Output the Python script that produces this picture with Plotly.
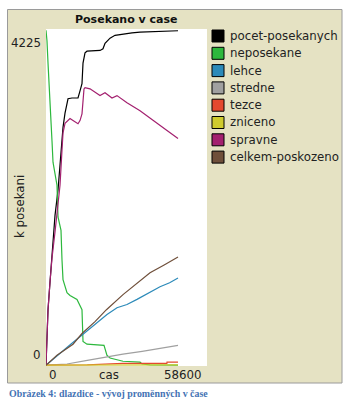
import plotly.graph_objects as go

# ---------------- data ----------------
series_names = ["pocet-posekanych", "neposekane", "lehce", "stredne",
                "tezce", "zniceno", "spravne", "celkem-poskozeno"]
series_colors = ["#000000", "#2db83d", "#2c8ab9", "#a0a0a0",
                 "#e4492f", "#cfcb2e", "#a3206f", "#6f4f3a"]

pocet_t = [0, 360, 730, 1460, 2180, 3280, 4370, 5100, 5820, 6190, 6920, 8010,
           9460, 11650, 12380, 13100, 13470, 14200, 14920, 19660, 20750, 21480,
           23300, 25120, 31300, 34220, 48050]
pocet_v = [0, 330, 700, 1050, 1390, 1890, 2210, 2500, 2830, 3000, 3180, 3360,
           3370, 3370, 3460, 3550, 3810, 3940, 3960, 3970, 3990, 4060,
           4125, 4160, 4190, 4200, 4218]

neposekane_t = [0, 360, 730, 1460, 1820, 2180, 2550, 3280, 4000, 4370, 5460,
                5820, 6190, 7640, 8740, 11280, 13100, 13470, 14920, 21110, 22200,
                23300, 25120, 28030, 34220, 34940, 37860, 48050]
neposekane_v = [4225, 4090, 3810, 3210, 3020, 2830, 2560, 2400, 2270, 1870, 1700,
                1330, 1080, 915, 880, 830, 700, 300, 265, 250, 125,
                90, 75, 50, 38, 15, 5, 0]

lehce_t = [0, 4000, 9000, 13470, 18560, 22200, 25840, 29480, 33120, 37860,
           41500, 45000, 48050]
lehce_v = [0, 120, 265, 390, 540, 640, 725, 765, 830, 915, 990, 1040, 1100]

stredne_t = [0, 7640, 14000, 21000, 28000, 35000, 42000, 48050]
stredne_v = [0, 15, 55, 100, 140, 175, 215, 250]

tezce_t = [0, 15000, 28000, 44000, 44050, 48050]
tezce_v = [0, 5, 22, 22, 38, 38]

zniceno_t = [0, 12000, 24000, 36000, 48050]
zniceno_v = [0, 0, 2, 3, 5]

spravne_t = [0, 360, 730, 1460, 2180, 3280, 4370, 5100, 5820, 6190, 6920, 8740,
             9830, 11650, 12380, 13100, 13830, 14200, 16020, 19660, 21480, 22570,
             24020, 25840, 29480, 34220, 38950, 44040, 48050]
spravne_v = [0, 330, 700, 1050, 1350, 1680, 1990, 2270, 2710, 2930, 3050, 3110,
             3085, 3045, 3085, 3170, 3485, 3500, 3485, 3400, 3435, 3410,
             3370, 3400, 3310, 3210, 3085, 2960, 2860]

celkem_t = [0, 4000, 9830, 13100, 17840, 22000, 28030, 33000, 37860, 43000, 48050]
celkem_v = [0, 125, 265, 400, 550, 700, 890, 1030, 1165, 1265, 1365]

x_min, x_max = 0, 58600
y_min, y_max = 0, 4225
plot_title = "Posekano v case"
x_title = "cas"
y_title = "k posekani"
caption = "Obrázek 4: dlazdice - vývoj proměnných v čase"

all_t = [pocet_t, neposekane_t, lehce_t, stredne_t, tezce_t, zniceno_t, spravne_t, celkem_t]
all_v = [pocet_v, neposekane_v, lehce_v, stredne_v, tezce_v, zniceno_v, spravne_v, celkem_v]

# ---------------- geometry helpers (pixel -> paper) ----------------
W, H = 359, 406
L, R, T, B = 46, 207, 29, 366   # plot area in pixels


def px(x):
    return (x - L) / (R - L)


def py(y):
    return (B - y) / (B - T)


FONT = "DejaVu Sans"
BEIGE = "#e5e2c3"

fig = go.Figure()
for name, color, t, v in zip(series_names, series_colors, all_t, all_v):
    fig.add_trace(go.Scatter(x=t, y=v, mode="lines", name=name,
                             line=dict(color=color, width=1.2),
                             showlegend=False, hoverinfo="skip"))

shapes = [
    # beige panel
    dict(type="rect", xref="paper", yref="paper", x0=px(7.5), x1=px(342),
         y0=py(383), y1=py(9.5), fillcolor=BEIGE,
         line=dict(color="#9a9a9a", width=1), layer="below"),
    # white plot area
    dict(type="rect", xref="paper", yref="paper", x0=0, x1=1, y0=0, y1=1,
         fillcolor="white", line=dict(width=0), layer="below"),
]

annotations = [
    dict(text="<b>" + plot_title + "</b>", xref="paper", yref="paper",
         x=px(126.5), y=py(19), xanchor="center", yanchor="middle",
         showarrow=False, font=dict(family=FONT, size=11, color="#111")),
    dict(text=str(y_max), xref="paper", yref="y", x=px(42.5), y=y_max,
         xanchor="right", yanchor="top", yshift=-4, showarrow=False,
         font=dict(family=FONT, size=11.8, color="#222")),
    dict(text=str(y_min), xref="paper", yref="y", x=px(42.5), y=y_min,
         xanchor="right", yanchor="bottom", yshift=1, showarrow=False,
         font=dict(family=FONT, size=11.8, color="#222")),
    dict(text=str(x_min), xref="x", yref="paper", x=x_min, y=py(375),
         xanchor="left", yanchor="middle", xshift=1, showarrow=False,
         font=dict(family=FONT, size=11.8, color="#222")),
    dict(text=str(x_max), xref="x", yref="paper", x=x_max, y=py(375),
         xanchor="right", yanchor="middle", xshift=-3, showarrow=False,
         font=dict(family=FONT, size=11.8, color="#222")),
    dict(text=x_title, xref="paper", yref="paper", x=px(109), y=py(375),
         xanchor="center", yanchor="middle", showarrow=False,
         font=dict(family=FONT, size=11.8, color="#222")),
    dict(text=y_title, xref="paper", yref="paper", x=px(20), y=py(207),
         xanchor="center", yanchor="middle", textangle=-90, showarrow=False,
         font=dict(family=FONT, size=11.8, color="#222")),
    dict(text="<b>" + caption + "</b>", xref="paper", yref="paper", x=px(6.5), y=py(393),
         xanchor="left", yanchor="middle", showarrow=False,
         font=dict(family="Liberation Serif", size=9.9, color="#4473b4")),
]

# manual legend
row0, row_step = 36, 17.3
for i, (name, color) in enumerate(zip(series_names, series_colors)):
    cy = row0 + i * row_step
    shapes.append(dict(type="rect", xref="paper", yref="paper",
                       x0=px(212), x1=px(224), y0=py(cy + 6), y1=py(cy - 6),
                       fillcolor=color, line=dict(color="#000", width=1)))
    annotations.append(dict(text=name, xref="paper", yref="paper",
                            x=px(228), y=py(cy), xanchor="left", yanchor="middle",
                            showarrow=False,
                            font=dict(family=FONT, size=11.8, color="#222")))

fig.update_layout(
    width=W, height=H, autosize=False,
    margin=dict(l=L, r=W - R, t=T, b=H - B, pad=0),
    paper_bgcolor="white", plot_bgcolor="white",
    showlegend=False,
    xaxis=dict(range=[x_min, x_max], showgrid=False, zeroline=False,
               showticklabels=False, ticks="", showline=False, fixedrange=True),
    yaxis=dict(range=[-10, 4240], showgrid=False, zeroline=False,
               showticklabels=False, ticks="", showline=False, fixedrange=True),
    shapes=shapes, annotations=annotations,
)

fig.write_html("out.html", config={"displayModeBar": False, "staticPlot": True},
               post_script="document.body.style.margin='0';document.body.style.overflow='hidden';")
